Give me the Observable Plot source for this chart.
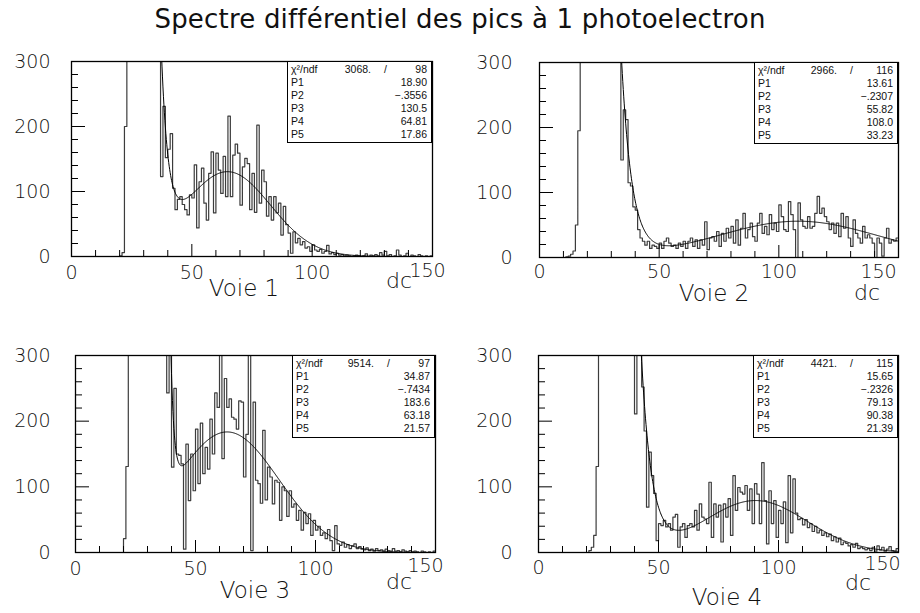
<!DOCTYPE html>
<html><head><meta charset="utf-8">
<script src="https://cdn.jsdelivr.net/npm/d3@7"></script>
<script src="https://cdn.jsdelivr.net/npm/@observablehq/plot@0.6"></script>
<style>
body{margin:0;background:#fff;}
#root{position:relative;width:920px;height:613px;overflow:hidden;font-family:"DejaVu Sans",sans-serif;color:#111;}
.panel{position:absolute;}
.title{position:absolute;left:0;width:920px;top:5px;text-align:center;font-size:26px;line-height:28px;letter-spacing:0.2px;font-family:"DejaVu Sans",sans-serif;color:#111;}
.lbl{position:absolute;transform:translate(-50%,-50%);white-space:nowrap;line-height:1;font-family:"DejaVu Sans ExtraLight","DejaVu Sans",sans-serif;font-weight:200;color:#111;}
.stats{position:absolute;box-sizing:border-box;border:1.2px solid #000;background:#fff;font-family:"Liberation Sans",Arial,sans-serif;font-size:10.5px;color:#111;}
.stats div{position:absolute;left:0;right:0;height:13px;line-height:13px;}
.stats span{position:absolute;}
</style></head><body><div id="root"></div>
<script>
// ---- data (bin low edge = index, width 1 dc) ----
const titleText = "Spectre différentiel des pics à 1 photoelectron";
const voieNames = ["Voie 1", "Voie 2", "Voie 3", "Voie 4"];
const xTickLabels = [0, 50, 100, 150];
const yTickLabels = [0, 100, 200, 300];

const voie1 = [0,0,0,0,0,0,0,0,0,0, 0,0,0,0,0,0,0,0,0,0,
 1,6,200,300,300,300,300,300,300,300, 300,300,300,300,300,300,300,123,231,152,
 165,189,105,72,88,92,80,72,64,95, 90,141,44,115,136,82,56,128,161,67,
 159,133,97,154,92,216,92,156,173,159, 79,138,151,143,72,128,68,202,82,133,
 115,62,92,56,92,67,82,33,77,49, 36,5,38,21,28,18,23,13,15,8,
 18,10,8,11,5,8,17,4,6,3, 5,2,3,1,2,1,0,1,2,1,
 0,1,4,0,2,1,3,1,6,2, 8,1,3,0,1,10,2,0,1,5,
 0,2,1,0,3,1,0,1,0,1];
const voie2 = [0,0,0,0,0,0,0,0,0,0, 0,1,2,5,10,50,195,300,300,300,
 300,300,300,300,300,300,300,300,300,300, 300,300,300,300,150,227,212,115,110,78,
 73,43,30,25,19,25,14,19,17,14, 22,14,25,30,22,17,19,14,22,17,
 25,14,25,30,17,27,14,27,19,55, 12,30,32,25,40,17,37,25,45,30,
 48,22,58,19,45,68,30,43,53,32, 25,53,68,37,48,35,66,43,53,40,
 81,63,43,40,86,66,43,0,84,58, 48,45,63,45,48,68,94,68,76,63,
 55,43,53,37,53,32,68,45,63,30, 17,58,37,30,22,48,30,35,30,22,
 0,30,22,2,30,45,22,27,25,30];
const voie3 = [0,0,0,0,0,0,0,0,0,0, 0,0,0,0,0,0,0,0,0,0,
 21,131,300,300,300,300,300,300,300,300, 300,300,300,300,300,300,300,300,243,300,
 130,250,150,148,135,5,165,79,150,94, 188,105,197,120,160,127,203,150,243,221,
 300,143,265,221,234,206,203,188,231,229, 115,180,300,3,229,110,105,75,186,80,
 130,115,74,110,107,49,100,94,55,94, 69,74,49,64,34,61,44,59,26,49,
 34,40,26,30,21,35,18,3,41,13, 11,16,8,12,6,10,13,6,9,5,
 4,7,3,5,2,6,3,4,2,5, 3,2,6,2,3,1,4,2,1,3,
 1,2,1,0,2,1,0,1,0,2];
const voie4 = [0,0,0,0,0,0,0,0,0,0, 0,0,0,0,0,0,0,0,0,0,
 0,3,8,26,131,300,300,300,300,300, 300,300,300,300,300,300,300,300,300,300,
 211,300,300,252,185,69,153,117,90,18, 44,41,49,39,44,34,54,58,8,39,
 44,23,41,44,39,64,34,74,54,51, 44,107,23,74,54,72,16,74,54,82,
 26,117,64,99,92,89,102,64,97,44, 105,89,44,137,79,13,94,44,79,23,
 64,44,77,15,117,30,112,60,50,52, 42,50,38,44,32,40,30,34,26,30,
 24,28,18,24,16,22,12,16,14,10, 12,8,14,6,8,6,4,6,3,8,
 2,10,4,8,2,5,9,3,2,6];

// fit results shown in the stats boxes: exp(P1+P2*x) + P3*gauss(P4,P5)
const chi2 = [3068, 2966, 9514, 4421];
const ndf = [98, 116, 97, 115];
const fitP1 = [18.90, 13.61, 34.87, 15.65];
const fitP2 = [-0.3556, -0.2307, -0.7434, -0.2326];
const fitP3 = [130.5, 55.82, 183.6, 79.13];
const fitP4 = [64.81, 108.0, 63.18, 90.38];
const fitP5 = [17.86, 33.23, 21.57, 21.39];
const fitFrom = [37, 30, 38, 30];
const fitTo = [141, 150, 143, 150];

const series = [voie1, voie2, voie3, voie4];

// ---- layout ----
const layout = [
  {left:0,   top:40,  mL:71, mR:28, mT:21, mB:44, padY:21, padX:9, dx150:-5, dy150:-2,
   voie:[244,288], dc:[399,281], box:[287,61,145,82]},
  {left:460, top:40,  mL:79, mR:22, mT:22, mB:43, padY:27, padX:7, dx150:-20, dy150:0,
   voie:[714,293], dc:[867,293], box:[754,62,144,82]},
  {left:0,   top:330, mL:75, mR:25, mT:25, mB:38, padY:25, padX:9, dx150:-10, dy150:-3,
   voie:[255,590], dc:[399,582], box:[292,355,143,83]},
  {left:460, top:330, mL:78, mR:22, mT:25, mB:38, padY:26, padX:8, dx150:-16, dy150:-4,
   voie:[727,597], dc:[858,583], box:[753,355,145,83]}
];
const W = 460, H = 260;
const tickFont = "'DejaVu Sans ExtraLight', 'DejaVu Sans', sans-serif";
const root = document.getElementById("root");

const t = document.createElement("div");
t.className = "title"; t.textContent = titleText; root.appendChild(t);

function fmt(v) {
  if (Math.abs(v) < 1) return (v < 0 ? "\u2212" : "") + Math.abs(v).toFixed(4).slice(1);
  return v.toPrecision(4);
}

const yMinor = d3.range(20, 300, 20).filter(d => d % 100 !== 0);
const yMajor = [100, 200];
const xMinor = d3.range(10, 150, 10).filter(d => d % 50 !== 0);
const xMajor = [50, 100];

series.forEach((vals, k) => {
  const L = layout[k];
  const fw = W - L.mL - L.mR, fh = H - L.mT - L.mB;
  const pts = vals.map((v, i) => ({x: i, y: Math.min(v, 300)}));
  pts.push({x: 150, y: pts[pts.length - 1].y});
  const p = [fitP1[k], fitP2[k], fitP3[k], fitP4[k], fitP5[k]];
  const fit = d3.range(fitFrom[k], fitTo[k] + 0.001, 0.2).map(x => ({
    x, y: Math.exp(p[0] + p[1] * x) + p[2] * Math.exp(-0.5 * ((x - p[3]) / p[4]) ** 2)
  }));
  const axisText = {tickSize: 0, tickFormat: d => String(d), fontSize: 19, fontFamily: tickFont, fontWeight: 200, fill: "#111"};
  const chart = Plot.plot({
    width: W, height: H,
    marginLeft: L.mL, marginRight: L.mR, marginTop: L.mT, marginBottom: L.mB,
    x: {domain: [0, 150], label: null},
    y: {domain: [0, 300], label: null},
    style: {fontFamily: tickFont, fontSize: "19px", color: "#111", background: "transparent", overflow: "visible"},
    marks: [
      Plot.lineY(pts, {x: "x", y: "y", curve: "step-after", stroke: "#3c3c3c", strokeWidth: 1.2, clip: true}),
      Plot.line(fit, {x: "x", y: "y", stroke: "#000", strokeWidth: 1, clip: true}),
      Plot.tickY(yMinor, {y: d => d, insetRight: fw - 7, stroke: "#000"}),
      Plot.tickY(yMajor, {y: d => d, insetRight: fw - 14, stroke: "#000"}),
      Plot.tickX(xMinor, {x: d => d, insetTop: fh - 6, stroke: "#000"}),
      Plot.tickX(xMajor, {x: d => d, insetTop: fh - 12, stroke: "#000"}),
      Plot.axisY({ticks: yTickLabels, tickPadding: L.padY, ...axisText}),
      Plot.axisX({ticks: xTickLabels.slice(0, 3), tickPadding: L.padX, ...axisText}),
      Plot.axisX({ticks: xTickLabels.slice(3), tickPadding: L.padX, dx: L.dx150, dy: L.dy150, ...axisText}),
      Plot.frame({stroke: "#000", strokeWidth: 1.3})
    ]
  });
  chart.classList.add("panel");
  chart.style.left = L.left + "px";
  chart.style.top = L.top + "px";
  root.appendChild(chart);

  const v = document.createElement("div");
  v.className = "lbl"; v.style.left = L.voie[0] + "px"; v.style.top = L.voie[1] + "px";
  v.style.fontSize = "23px"; v.textContent = voieNames[k]; root.appendChild(v);
  const dc = document.createElement("div");
  dc.className = "lbl"; dc.style.left = L.dc[0] + "px"; dc.style.top = L.dc[1] + "px";
  dc.style.fontSize = "22px"; dc.textContent = "dc"; root.appendChild(dc);

  const b = document.createElement("div");
  b.className = "stats";
  b.style.left = L.box[0] + "px"; b.style.top = L.box[1] + "px";
  b.style.width = L.box[2] + "px"; b.style.height = L.box[3] + "px";
  const rows = [["\u03c7\u00b2/ndf", null], ["P1", fitP1[k]], ["P2", fitP2[k]], ["P3", fitP3[k]], ["P4", fitP4[k]], ["P5", fitP5[k]]];
  rows.forEach((r, i) => {
    const row = document.createElement("div");
    row.style.top = (0.5 + i * 13.1) + "px";
    if (r[1] === null) {
      row.innerHTML = `<span style="left:3px">${r[0]}</span><span style="right:60px">${chi2[k]}.</span><span style="right:44px">/</span><span style="right:4px">${ndf[k]}</span>`;
    } else {
      row.innerHTML = `<span style="left:3px">${r[0]}</span><span style="right:4px">${fmt(r[1])}</span>`;
    }
    b.appendChild(row);
  });
  root.appendChild(b);
});
</script></body></html>
